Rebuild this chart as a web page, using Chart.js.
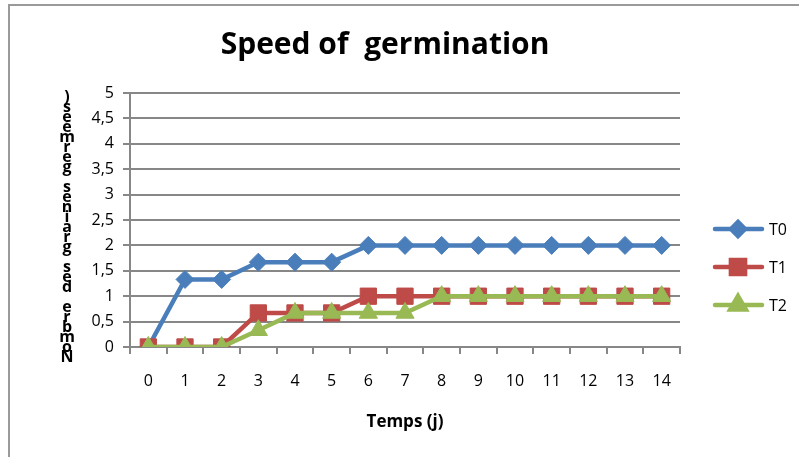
<!DOCTYPE html>
<html>
<head>
<meta charset="utf-8">
<script src="https://cdn.jsdelivr.net/npm/chart.js@4.4.0/dist/chart.umd.min.js"></script>
<style>
  html, body { margin: 0; padding: 0; background: #fff; }
  #wrap { position: relative; width: 799px; height: 457px; }
</style>
</head>
<body>
<div id="wrap"><canvas id="chart" width="799" height="457"></canvas></div>
<script>
// data
const days = ['0', '1', '2', '3', '4', '5', '6', '7', '8', '9', '10', '11', '12', '13', '14'];
const t0 = [0, 1.33, 1.33, 1.67, 1.67, 1.67, 2, 2, 2, 2, 2, 2, 2, 2, 2];
const t1 = [0, 0, 0, 0.67, 0.67, 0.67, 1, 1, 1, 1, 1, 1, 1, 1, 1];
const t2 = [0, 0, 0, 0.33, 0.67, 0.67, 0.67, 0.67, 1, 1, 1, 1, 1, 1, 1];
const seriesNames = ['T0', 'T1', 'T2'];
const yTickLabels = ['0', '0,5', '1', '1,5', '2', '2,5', '3', '3,5', '4', '4,5', '5'];

const chartTitle = 'Speed of  germination';
const xTitle = 'Temps (j)';
const yTitle = 'Nombre des graines germées)';

const FONT = "'Open Sans', 'DejaVu Sans', sans-serif";
const GRID = '#878787';

// frame, title, the stacked y title and the legend are painted by hand
const decorations = {
  id: 'decorations',
  beforeDraw(chart) {
    const ctx = chart.ctx;
    ctx.save();
    ctx.strokeStyle = '#9a9a9a';
    ctx.lineWidth = 2;
    ctx.beginPath();
    ctx.moveTo(9, 457);
    ctx.lineTo(9, 5);
    ctx.lineTo(799, 5);
    ctx.stroke();
    ctx.restore();
  },
  afterDraw(chart) {
    const ctx = chart.ctx;
    ctx.save();
    // title
    ctx.fillStyle = '#000';
    ctx.font = "bold 30px " + FONT;
    ctx.textAlign = 'center';
    ctx.textBaseline = 'middle';
    ctx.fillText(chartTitle, 385, 45);

    // y title: characters stacked upright, bottom to top, overlapping
    ctx.font = "bold 16px " + FONT;
    const chars = [...yTitle];
    const top = 97, bottom = 357;
    const step = (bottom - top) / (chars.length - 1);
    chars.forEach((c, i) => {
      if (c === ' ') return;
      ctx.fillText(c, 67, bottom - i * step);
    });

    // legend
    chart.data.datasets.forEach((ds, i) => {
      const y = 229 + i * 38;
      ctx.strokeStyle = ds.borderColor;
      ctx.lineWidth = 4.5;
      ctx.lineCap = 'round';
      ctx.beginPath();
      ctx.moveTo(715, y);
      ctx.lineTo(762, y);
      ctx.stroke();
      ctx.fillStyle = ds.pointBackgroundColor;
      ctx.strokeStyle = ds.pointBorderColor;
      Chart.helpers.drawPoint(ctx, {
        pointStyle: ds.pointStyle,
        radius: ds.legendRadius,
        rotation: 0,
        borderWidth: 1
      }, 738, y);
      ctx.fillStyle = '#000';
      ctx.font = "16px " + FONT;
      ctx.textAlign = 'left';
      ctx.fillText(ds.label, 769, y + 1);
    });
    ctx.restore();
  }
};

function series(label, data, color, style, radius, legendRadius, order) {
  return {
    label,
    data,
    order,
    borderColor: color,
    backgroundColor: color,
    pointBackgroundColor: color,
    pointBorderColor: color,
    pointBorderWidth: 1,
    pointStyle: style,
    pointRadius: radius,
    legendRadius,
    borderWidth: 4.5,
    tension: 0,
    fill: false
  };
}

new Chart(document.getElementById('chart'), {
  type: 'line',
  data: {
    labels: days,
    datasets: [
      // later series sit on top, as in the spreadsheet
      series(seriesNames[0], t0, '#4A7EBB', 'rectRot', 9, 7, 3),
      series(seriesNames[1], t1, '#BE4B48', 'rect', 11.5, 10, 2),
      series(seriesNames[2], t2, '#98B954', 'triangle', 10.5, 9, 1)
    ]
  },
  options: {
    responsive: false,
    animation: false,
    devicePixelRatio: 1,
    layout: { padding: { left: 80, right: 119, top: 93, bottom: 25 } },
    plugins: {
      legend: { display: false },
      title: { display: false },
      tooltip: { enabled: false }
    },
    scales: {
      x: {
        type: 'category',
        offset: true,
        grid: {
          offset: true,
          drawOnChartArea: false,
          drawTicks: true,
          tickLength: 7,
          color: GRID,
          lineWidth: 2
        },
        border: { color: GRID, width: 2 },
        ticks: { color: '#000', padding: 18, font: { family: FONT, size: 16 } },
        title: {
          display: true,
          text: xTitle,
          color: '#000',
          font: { family: FONT, size: 17, weight: 'bold' },
          padding: { top: 0, bottom: 0 }
        },
        afterFit(scale) { scale.height = 85; }
      },
      y: {
        min: 0,
        max: 5,
        grid: { color: GRID, lineWidth: 2, tickLength: 7, drawTicks: true },
        border: { color: GRID, width: 2 },
        ticks: {
          stepSize: 0.5,
          color: '#000',
          padding: 9,
          font: { family: FONT, size: 16 },
          callback: (v, i) => yTickLabels[i]
        },
        afterFit(scale) { scale.width = 50; }
      }
    }
  },
  plugins: [decorations]
});
</script>
</body>
</html>
